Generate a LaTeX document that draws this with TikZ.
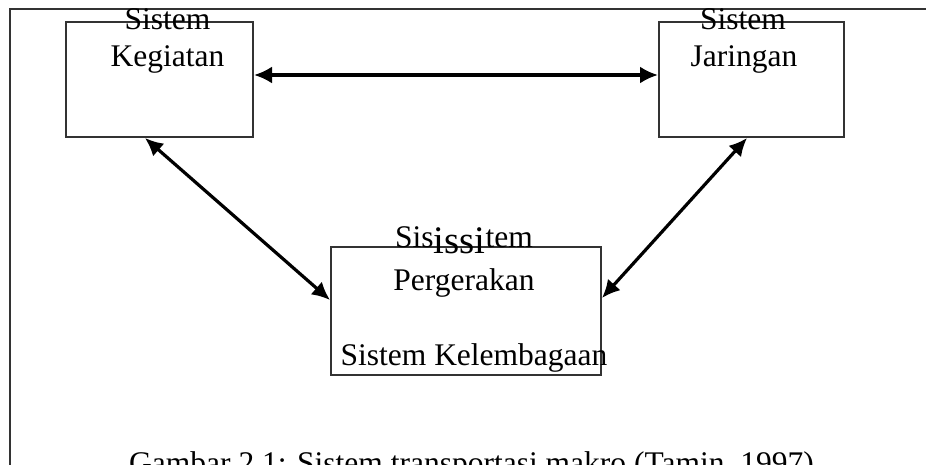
\documentclass[tikz,border=0pt]{standalone}
\usepackage{fontspec}
\setmainfont{Liberation Serif}
\usetikzlibrary{positioning,arrows.meta}

\begin{document}
\begin{tikzpicture}[
    x=1pt, y=1pt,
    every node/.style={font=\fontsize{31.5}{37}\selectfont, inner sep=0pt},
    box/.style={draw=black!80, line width=2pt, rectangle},
    lbl/.style={anchor=base},
    arrow/.style={{Latex[length=18pt,width=17pt]}-{Latex[length=18pt,width=17pt]}, line width=3.2pt}
]
\clip (0,0) rectangle (926,464);

% Outer frame
\draw[black!80, line width=2.2pt] (10,-20) -- (10,455) -- (940,455);

% Boxes
\node[box, minimum width=187pt, minimum height=115pt] (keg) at (159.5,384.5) {};
\node[box, minimum width=185pt, minimum height=115pt] (jar) at (751.5,384.5) {};
\node[box, minimum width=270pt, minimum height=128pt] (per) at (466,153) {};

% Texts
\node[lbl] (kegA) at (167.5,434) {Sistem};
\node[lbl] (kegB) at (167.5,397) {Kegiatan};
\node[lbl] (jarA) at (743,434) {Sistem};
\node[lbl] (jarB) at (744,397) {Jaringan};
\node[lbl] (perA) at (464,216) {Sis\raisebox{-5pt}{\fontsize{39}{39}\selectfont issi}tem};
\node[lbl] (perB) at (464,174) {Pergerakan};
\node[lbl] (perC) at (474,99) {Sistem Kelembagaan};
\node[anchor=base west] (cap) at (129,-9) {Gambar 2.1: Sistem transportasi makro (Tamin, 1997)};

% Arrows
\draw[arrow] ([yshift=4.5pt]keg.east) -- ([yshift=4.5pt]jar.west);
\draw[arrow] ([xshift=-14.5pt]keg.south) -- ([yshift=11pt]per.west);
\draw[arrow] ([xshift=-4.5pt]jar.south) -- ([yshift=13pt]per.east);

\end{tikzpicture}
\end{document}
